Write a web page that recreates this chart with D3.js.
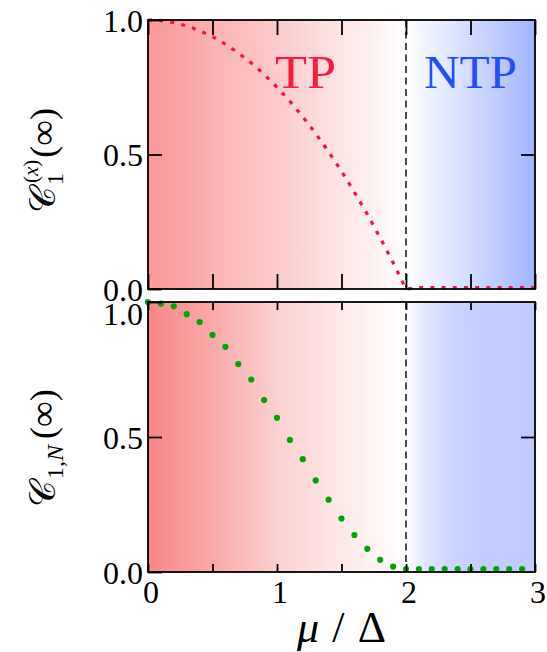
<!DOCTYPE html>
<html><head><meta charset="utf-8">
<script src="https://cdn.jsdelivr.net/npm/d3@7"></script>
<style>body{margin:0;background:#fff}svg{display:block}svg text{font-family:"Liberation Serif"}</style>
</head><body>
<script>
// ---- data ----
const xTicks = [0, 0.5, 1, 1.5, 2, 2.5, 3];
const xTickLabels = ["0", "", "1", "", "2", "", "3"];
const yTicks = [0, 0.5, 1];
const yTickLabels = ["0.0", "0.5", "1.0"];
const muTop = [0,0.1,0.2,0.3,0.4,0.5,0.6,0.7,0.8,0.9,1.0,1.1,1.2,1.3,1.4,1.5,1.6,1.7,1.8,1.9,2.0,2.1,2.2,2.3,2.4,2.5,2.6,2.7,2.8,2.9,3.0];
const cTop  = [1.0,0.998,0.99,0.978,0.96,0.938,0.91,0.878,0.84,0.798,0.75,0.698,0.64,0.578,0.51,0.438,0.36,0.278,0.19,0.098,0.0,0.005,0.005,0.005,0.005,0.005,0.005,0.005,0.005,0.005,0.005];
const muBot = [0,0.1,0.2,0.3,0.4,0.5,0.6,0.7,0.8,0.9,1.0,1.1,1.2,1.3,1.4,1.5,1.6,1.7,1.8,1.9,2.0,2.1,2.2,2.3,2.4,2.5,2.6,2.7,2.8,2.9];
const cBot  = [1.0,0.994,0.984,0.955,0.926,0.878,0.834,0.770,0.713,0.637,0.571,0.489,0.418,0.339,0.268,0.198,0.137,0.086,0.045,0.020,0.011,0.011,0.011,0.011,0.011,0.011,0.011,0.011,0.011,0.011];
const phaseLabels = ["TP", "NTP"];
const criticalMu = 2;

// ---- layout ----
const W = 547, H = 652;
const left = 148, right = 535;
const panels = [
  {top: 20, bottom: 289, tick: 15, grad: "gTop", topLabelShift: 0},
  {top: 302, bottom: 572, tick: 8, grad: "gBot", topLabelShift: 11}
];
const svg = d3.select("body").append("svg").attr("width", W).attr("height", H);
const defs = svg.append("defs");
const x = d3.scaleLinear().domain([0, 3]).range([left, right]);

function grad(id, stops) {
  const g = defs.append("linearGradient").attr("id", id)
    .attr("gradientUnits", "userSpaceOnUse")
    .attr("x1", left).attr("x2", right).attr("y1", 0).attr("y2", 0);
  stops.forEach(s => g.append("stop").attr("offset", (x(s[0]) - left) / (right - left)).attr("stop-color", s[1]));
}
grad("gTop", [[0, "#fa9898"], [1, "#fccbcb"], [2, "#ffffff"], [2.5, "#d2dbff"], [3, "#a2b5ff"]]);
grad("gBot", [[0, "#f88686"], [0.5, "#faa9a9"], [1, "#fcd0d0"], [1.5, "#fde8e8"], [2, "#ffffff"], [2.15, "#e1e7ff"], [2.35, "#ccd5ff"], [2.6, "#c2ccff"], [3, "#c0cafe"]]);

panels.forEach((p, i) => {
  const y = d3.scaleLinear().domain([0, 1]).range([p.bottom, p.top]);
  const g = svg.append("g");
  g.append("rect").attr("x", left).attr("y", p.top).attr("width", right - left).attr("height", p.bottom - p.top)
    .attr("fill", `url(#${p.grad})`);
  g.append("line").attr("x1", x(criticalMu)).attr("x2", x(criticalMu)).attr("y1", p.top).attr("y2", p.bottom)
    .attr("stroke", "#222").attr("stroke-width", 1.6).attr("stroke-dasharray", "7,4.5");

  if (i === 0) {
    const line = d3.line().x((d, k) => x(muTop[k])).y(d => y(d));
    g.append("path").datum(cTop).attr("d", line).attr("fill", "none")
      .attr("stroke", "#ff1040").attr("stroke-width", 3.2).attr("stroke-dasharray", "4,7.2");
    g.append("text").attr("x", 275).attr("y", 88).attr("font-size", 46).attr("fill", "#ff1a3c")
      .attr("textLength", 61).attr("lengthAdjust", "spacingAndGlyphs").text(phaseLabels[0]);
    g.append("text").attr("x", 424).attr("y", 88).attr("font-size", 46).attr("fill", "#1f4dff")
      .attr("textLength", 93).attr("lengthAdjust", "spacingAndGlyphs").text(phaseLabels[1]);
  } else {
    g.selectAll("circle").data(cBot).join("circle")
      .attr("cx", (d, k) => x(muBot[k])).attr("cy", d => y(d)).attr("r", 3.1).attr("fill", "#00a600");
  }

  const blank = () => "";
  g.append("g").attr("transform", `translate(0,${p.bottom})`)
    .call(d3.axisBottom(x).tickValues(xTicks).tickSize(-p.tick).tickFormat(blank));
  g.append("g").attr("transform", `translate(0,${p.top})`)
    .call(d3.axisTop(x).tickValues(xTicks).tickSize(-p.tick).tickFormat(blank));
  g.append("g").attr("transform", `translate(${left},0)`)
    .call(d3.axisLeft(y).tickValues(yTicks).tickSize(-14).tickFormat((d, k) => yTickLabels[k]));
  g.append("g").attr("transform", `translate(${right},0)`)
    .call(d3.axisRight(y).tickValues(yTicks.filter(v => v > 0 && v < 1)).tickSize(-14).tickFormat(blank));
  g.selectAll(".domain").remove();
  g.selectAll(".tick line").attr("stroke", "#000").attr("stroke-width", 1.8);
  g.selectAll(".tick text").attr("font-size", 32).attr("fill", "#000")
    .attr("dy", d => (d === 1 ? p.topLabelShift : 0) + 11).attr("x", -5);
  g.append("rect").attr("x", left).attr("y", p.top).attr("width", right - left).attr("height", p.bottom - p.top)
    .attr("fill", "none").attr("stroke", "#000").attr("stroke-width", 1.8);
});

// x tick labels
svg.append("g").selectAll("text").data(xTicks.filter((d, k) => xTickLabels[k] !== "")).join("text")
  .attr("x", d => x(d) + 3).attr("y", 603).attr("text-anchor", "middle").attr("font-size", 32)
  .text(d => xTickLabels[xTicks.indexOf(d)]);

// x label
const xl = svg.append("text").attr("x", 297).attr("y", 642).attr("font-size", 44)
  .attr("textLength", 89).attr("lengthAdjust", "spacing");
xl.append("tspan").attr("font-style", "italic").text("μ");
xl.append("tspan").text("/Δ");

// y labels
const yl1 = svg.append("text").attr("transform", "translate(55,213) rotate(-90)").attr("font-size", 36);
yl1.append("tspan").text("𝒞");
yl1.append("tspan").attr("font-size", 24).attr("dx", 2).attr("dy", 8).text("1");
yl1.append("tspan").attr("font-size", 21).attr("dx", -10).attr("dy", -25).text("(");
yl1.append("tspan").attr("font-size", 21).attr("font-style", "italic").text("x");
yl1.append("tspan").attr("font-size", 21).text(")");
yl1.append("tspan").attr("dy", 17).attr("dx", 2).text("(∞)");

const yl2 = svg.append("text").attr("transform", "translate(55,507) rotate(-90)").attr("font-size", 36);
yl2.append("tspan").text("𝒞");
yl2.append("tspan").attr("font-size", 24).attr("dx", 2).attr("dy", 8).text("1,");
yl2.append("tspan").attr("font-size", 24).attr("font-style", "italic").text("N");
yl2.append("tspan").attr("dy", -8).attr("dx", 6).text("(∞)");
</script>
</body></html>
